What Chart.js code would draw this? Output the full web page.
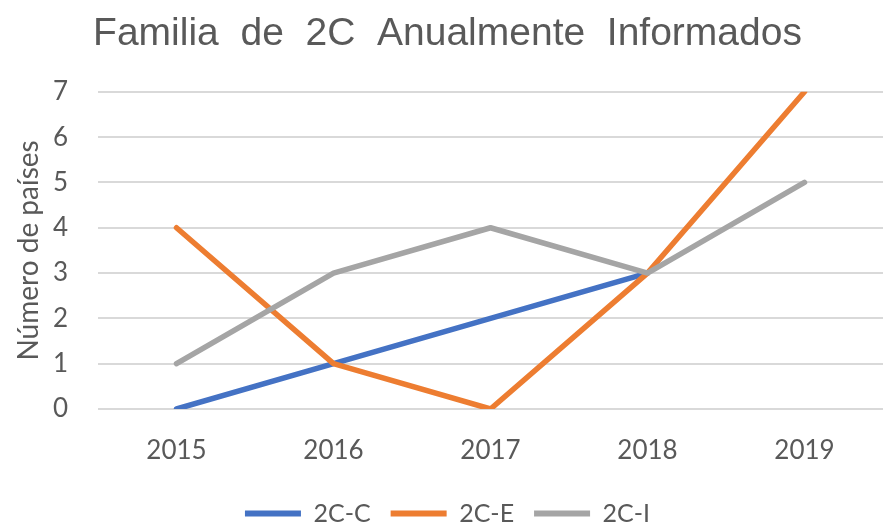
<!DOCTYPE html>
<html>
<head>
<meta charset="utf-8">
<script src="https://cdn.jsdelivr.net/npm/chart.js@4.4.0/dist/chart.umd.min.js"></script>
<style>
  html, body { margin: 0; padding: 0; background: #fff; }
  #wrap { width: 885px; height: 524px; }
</style>
</head>
<body>
<div id="wrap"><canvas id="chart" width="885" height="524"></canvas></div>
<script>
const years = ["2015", "2016", "2017", "2018", "2019"];
const serie2CC = [0, 1, 2, 3, null];
const serie2CE = [4, 1, 0, 3, 7];
const serie2CI = [1, 3, 4, 3, 5];
const yTicks = [0, 1, 2, 3, 4, 5, 6, 7];

const FONT = "Lato, 'Open Sans', sans-serif";
const TITLE_FONT = "'Liberation Sans', Arial, sans-serif";
const GREY = "#595959";

// Excel draws later series on top: lower "order" is drawn last in Chart.js
const line = (label, data, color, order) => ({
    label, data, order,
    borderColor: color,
    backgroundColor: color,
    borderWidth: 5.5,
    borderCapStyle: "round",
    borderJoinStyle: "round",
    pointRadius: 0,
    pointHoverRadius: 0,
    tension: 0,
    spanGaps: false
});

new Chart(document.getElementById("chart").getContext("2d"), {
    type: "line",
    data: {
        labels: years,
        datasets: [
            line("2C-C", serie2CC, "#4472C4", 3),
            line("2C-E", serie2CE, "#ED7D31", 2),
            line("2C-I", serie2CI, "#A5A5A5", 1)
        ]
    },
    options: {
        responsive: false,
        animation: false,
        layout: { padding: { left: 12, right: 2, top: 4, bottom: -12 } },
        plugins: {
            title: {
                display: true,
                // wide word gaps as in the original
                text: "Familia  de  2C  Anualmente  Informados",
                color: GREY,
                font: { family: TITLE_FONT, size: 39, weight: "normal" },
                padding: { top: 7, bottom: 34 }
            },
            legend: {
                position: "bottom",
                labels: {
                    sort: (a, b) => a.datasetIndex - b.datasetIndex,
                    color: GREY,
                    font: { family: FONT, size: 25 },
                    boxWidth: 56,
                    boxHeight: 6,
                    padding: 20,
                    generateLabels: chart => chart.data.datasets.map((d, i) => ({
                        text: d.label,
                        fillStyle: d.borderColor,
                        strokeStyle: d.borderColor,
                        lineWidth: 0,
                        fontColor: GREY,
                        datasetIndex: i
                    }))
                }
            },
            tooltip: { enabled: false }
        },
        scales: {
            x: {
                offset: true,
                afterFit: s => { s.height = 72; },
                grid: { display: false, drawTicks: false },
                border: { display: false },
                ticks: { color: GREY, font: { family: FONT, size: 26 }, padding: 26 }
            },
            y: {
                min: 0,
                max: 7,
                afterBuildTicks: s => { s.ticks = yTicks.map(v => ({ value: v })); },
                afterFit: s => { s.width = 86; },
                grid: { color: "#D9D9D9", lineWidth: 2, drawTicks: false },
                border: { display: false },
                ticks: { color: GREY, font: { family: FONT, size: 26 }, padding: 30 },
                title: {
                    display: true,
                    text: "Número de países",
                    color: GREY,
                    font: { family: FONT, size: 28 },
                    padding: { top: 0, bottom: 0 }
                }
            }
        }
    }
});
</script>
</body>
</html>
